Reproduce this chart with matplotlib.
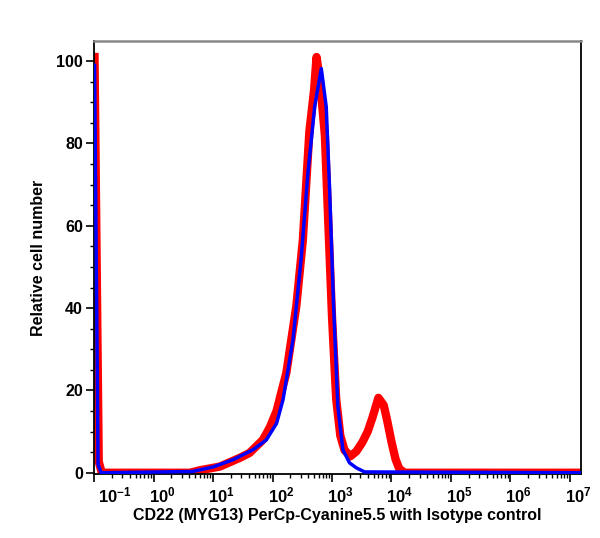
import matplotlib

matplotlib.use("Agg")
import matplotlib.pyplot as plt
import matplotlib.transforms as mtransforms
import numpy as np
from matplotlib.ticker import FixedLocator, LogLocator, MultipleLocator, NullFormatter

plt.rcParams["font.family"] = ["Liberation Sans", "DejaVu Sans"]
plt.rcParams["font.weight"] = "bold"
plt.rcParams["mathtext.fontset"] = "custom"
plt.rcParams["mathtext.rm"] = "Liberation Sans:bold"
plt.rcParams["mathtext.it"] = "Liberation Sans:bold"
plt.rcParams["mathtext.bf"] = "Liberation Sans:bold"

# CD22 (MYG13) PerCp-Cyanine5.5 stained sample (red)
cd22_x = [0.102, 0.12, 0.135, 4.1, 6.0, 13, 28, 41, 69, 90, 117, 171, 251,
          324, 417, 457, 500, 550, 631, 759, 871, 1000, 1175, 1380, 1622,
          2042, 2570, 3236, 3981, 4786, 6026, 7413, 8511, 10000, 11750,
          13490, 16600, 1.58e7]
cd22_y = [101, 2.7, 0, 0, 0.6, 1.5, 3.6, 4.8, 8.0, 11, 15, 24.3, 40.4,
          56.6, 83, 88, 93, 101, 95, 82, 60, 38, 18, 9, 5.5,
          4.0, 5.2, 7.4, 10, 13.4, 18.2, 16.4, 12.5, 7.5, 3.2,
          1.0, 0, 0]

# isotype control (blue)
iso_x = [0.102, 0.117, 0.132, 4.5, 10, 22, 47, 79, 117, 150, 171, 221,
         305, 394, 511, 661, 800, 912, 1064, 1256, 1524, 1972, 2558,
         3524, 1.58e7]
iso_y = [99, 2, 0, 0.3, 1.4, 3.2, 5.6, 8, 12, 17.7, 22.6, 32.3,
         52.5, 72.8, 88.9, 98.2, 88.9, 68.7, 40.4, 16.1, 5.6, 2.4, 1.2,
         0.2, 0]

x_major = [1e-1, 1e0, 1e1, 1e2, 1e3, 1e4, 1e5, 1e6, 1e7]
x_labels = ["$10^{-1}$", "$10^{0}$", "$10^{1}$", "$10^{2}$", "$10^{3}$",
            "$10^{4}$", "$10^{5}$", "$10^{6}$", "$10^{7}$"]
y_major = [0, 20, 40, 60, 80, 100]

fig = plt.figure(figsize=(6.0, 5.38), dpi=100)
ax = fig.add_axes([0.1567, 0.119, 0.8116, 0.8048])

ax.plot(cd22_x, cd22_y, color="#ff0000", linewidth=6.0, solid_joinstyle="round",
        zorder=2)
ax.plot(iso_x, iso_y, color="#0000ff", linewidth=2.5, solid_joinstyle="round",
        zorder=3)

ax.set_xscale("log")
ax.set_xlim(0.1, 10 ** 7.185)
ax.set_ylim(-0.3, 104.9)

ax.xaxis.set_major_locator(FixedLocator(x_major))
ax.set_xticklabels(x_labels, fontsize=12)
ax.xaxis.set_minor_locator(LogLocator(base=10, subs=np.arange(2, 10)))
ax.xaxis.set_minor_formatter(NullFormatter())
ax.yaxis.set_major_locator(FixedLocator(y_major))
ax.yaxis.set_minor_locator(MultipleLocator(5))
ax.set_yticklabels([str(v) for v in y_major], fontsize=11.5, fontweight="bold")

ax.tick_params(axis="both", which="major", direction="out", length=6,
               width=1.2, color="black")
ax.tick_params(axis="both", which="minor", direction="out", length=3,
               width=1.0, color="black")
ax.tick_params(axis="x", which="major", pad=2)
ax.tick_params(axis="y", which="major", pad=2)
ax.tick_params(top=False, right=False, which="both")

# shift x labels so the "10" sits over the tick, like the original software
offset = mtransforms.ScaledTranslation(-5 / 100, 0, fig.dpi_scale_trans)
for i, lab in enumerate(ax.get_xticklabels()):
    lab.set_horizontalalignment("left")
    if i == 0:
        lab.set_transform(lab.get_transform()
                          + mtransforms.ScaledTranslation(4 / 100, 0, fig.dpi_scale_trans))
    else:
        lab.set_transform(lab.get_transform() + offset)

for side in ["left", "bottom", "right"]:
    ax.spines[side].set_color("black")
    ax.spines[side].set_linewidth(1.3)
ax.spines["top"].set_color("#888888")
ax.spines["top"].set_linewidth(1.8)

ax.set_xlabel("CD22 (MYG13) PerCp-Cyanine5.5 with Isotype control",
              fontsize=11.5, fontweight="bold", labelpad=2)
ax.set_ylabel("Relative cell number", fontsize=11.5, fontweight="bold",
              labelpad=7)

fig.savefig("out.png", dpi=100)
